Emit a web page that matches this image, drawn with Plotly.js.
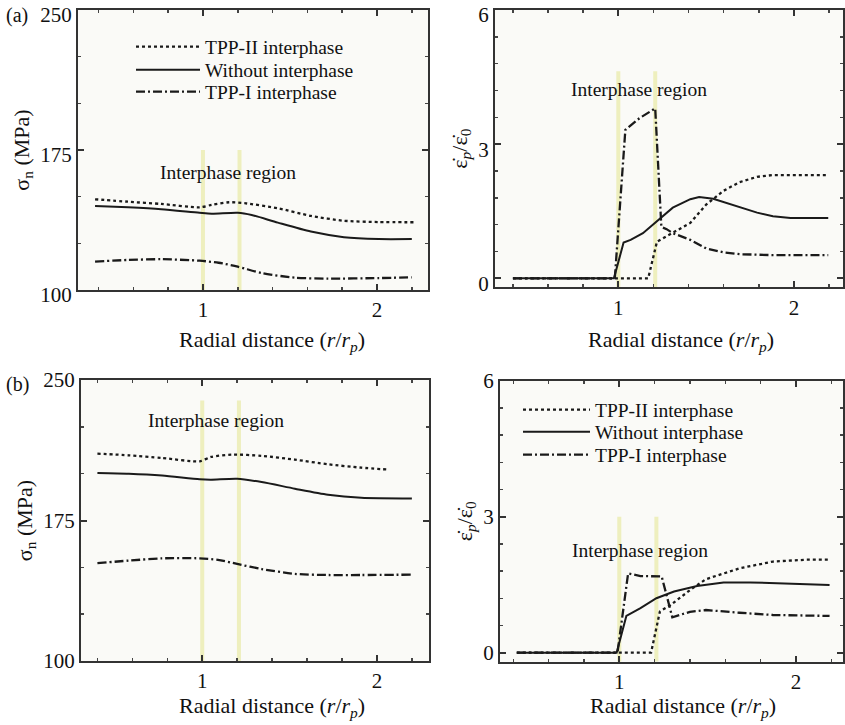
<!DOCTYPE html>
<html><head><meta charset="utf-8">
<script src="https://cdn.plot.ly/plotly-3.0.1.min.js"></script>
<style>html,body{margin:0;padding:0;background:#fff}#chart{width:845px;height:725px}</style>
</head><body><div id="chart"></div>
<script>
// ---------------- data ----------------
const seriesNames = ["TPP-II interphase", "Without interphase", "TPP-I interphase"];
const interphaseBounds = [1.0, 1.21];

// (a) left: normal stress sigma_n (MPa)
const aSigTpp2X = [0.38,0.57,0.76,0.98,1.05,1.15,1.24,1.43,1.62,1.81,2.01,2.22];
const aSigTpp2Y = [148.6,147.3,146.1,144.3,145.6,147.0,146.5,143.8,139.7,137.1,136.4,136.3];
const aSigNoneX = [0.38,0.57,0.76,0.98,1.05,1.20,1.28,1.43,1.62,1.81,2.01,2.20];
const aSigNoneY = [145.0,144.3,143.3,141.4,140.9,141.4,140.2,136.1,131.3,128.3,127.3,127.3];
const aSigTpp1X = [0.38,0.57,0.76,0.98,1.09,1.20,1.34,1.53,1.72,2.01,2.20];
const aSigTpp1Y = [115.2,116.1,116.5,115.7,114.6,112.5,109.0,106.6,106.1,106.4,106.8];

// (a) right: plastic strain rate ratio
const aEpsTpp2X = [0.40,1.17,1.22,1.31,1.41,1.50,1.60,1.69,1.79,1.88,2.00,2.195];
const aEpsTpp2Y = [0,0,0.82,1.01,1.24,1.65,1.96,2.15,2.27,2.31,2.31,2.31];
const aEpsNoneX = [0.40,0.975,1.03,1.07,1.14,1.22,1.31,1.41,1.46,1.54,1.69,1.79,1.88,1.98,2.195];
const aEpsNoneY = [0,0,0.80,0.86,1.01,1.28,1.58,1.77,1.82,1.78,1.60,1.47,1.39,1.35,1.35];
const aEpsTpp1X = [0.40,0.98,1.04,1.12,1.21,1.245,1.275,1.31,1.41,1.50,1.60,1.69,1.88,2.195];
const aEpsTpp1Y = [0,0,3.32,3.58,3.80,1.15,1.10,1.01,0.86,0.67,0.58,0.54,0.52,0.52];

// (b) left
const bSigTpp2X = [0.40,0.58,0.77,0.985,1.05,1.17,1.34,1.53,1.72,1.91,2.06];
const bSigTpp2Y = [210.7,209.8,208.4,206.6,208.9,210.2,209.5,207.5,205.0,203.2,202.2];
const bSigNoneX = [0.40,0.58,0.77,0.985,1.05,1.20,1.34,1.53,1.72,1.91,2.20];
const bSigNoneY = [200.4,200.0,199.0,197.0,196.8,197.3,195.5,192.0,188.8,187.2,186.8];
const bSigTpp1X = [0.40,0.58,0.77,0.985,1.09,1.20,1.34,1.53,1.72,1.91,2.20];
const bSigTpp1Y = [152.2,153.6,154.8,154.8,154.0,151.8,149.1,146.5,145.9,145.9,146.1];

// (b) right
const bEpsTpp2X = [0.42,1.18,1.23,1.29,1.40,1.49,1.68,1.87,2.06,2.19];
const bEpsTpp2Y = [0,0,0.91,1.05,1.38,1.62,1.86,2.01,2.05,2.05];
const bEpsNoneX = [0.42,0.985,1.04,1.12,1.21,1.31,1.44,1.59,1.74,1.97,2.19];
const bEpsNoneY = [0,0,0.81,0.98,1.20,1.35,1.47,1.55,1.55,1.52,1.49];
const bEpsTpp1X = [0.42,0.99,1.05,1.12,1.24,1.30,1.40,1.49,1.68,1.87,2.19];
const bEpsTpp1Y = [0,0,1.75,1.69,1.68,0.78,0.90,0.94,0.88,0.83,0.81];

// ---------------- styles ----------------
const FONT = "Liberation Serif, Times New Roman, serif";
const INK = "#1a1a1a";
const dashes = ["3px,3px", "solid", "9px,3px,2px,3px"];

function tr(x, y, idx, xa, ya, legendId, smooth) {
  return {
    type: "scatter", mode: "lines", x: x, y: y, name: seriesNames[idx],
    xaxis: xa, yaxis: ya,
    line: {color: INK, width: idx === 1 ? 2 : 2.3, dash: dashes[idx],
           shape: smooth ? "spline" : "linear", smoothing: 0.7},
    showlegend: !!legendId, legend: legendId || "legend", hoverinfo: "skip"
  };
}

const data = [
  tr(aSigTpp2X, aSigTpp2Y, 0, "x", "y", "legend", true),
  tr(aSigNoneX, aSigNoneY, 1, "x", "y", "legend2", true),
  tr(aSigTpp1X, aSigTpp1Y, 2, "x", "y", "legend3", true),
  tr(aEpsTpp2X, aEpsTpp2Y, 0, "x2", "y2", null, false),
  tr(aEpsNoneX, aEpsNoneY, 1, "x2", "y2", null, false),
  tr(aEpsTpp1X, aEpsTpp1Y, 2, "x2", "y2", null, false),
  tr(bSigTpp2X, bSigTpp2Y, 0, "x3", "y3", null, true),
  tr(bSigNoneX, bSigNoneY, 1, "x3", "y3", null, true),
  tr(bSigTpp1X, bSigTpp1Y, 2, "x3", "y3", null, true),
  tr(bEpsTpp2X, bEpsTpp2Y, 0, "x4", "y4", "legend4", false),
  tr(bEpsNoneX, bEpsNoneY, 1, "x4", "y4", "legend5", false),
  tr(bEpsTpp1X, bEpsTpp1Y, 2, "x4", "y4", "legend6", false)
];

const tickFont = {family: FONT, size: 21, color: "#111"};
const titleFont = {family: FONT, size: 22, color: "#111"};
const xTitle = "Radial distance (<i>r</i>/<i>r</i><sub><i>p</i></sub>)";

function xAx(domain, range, anchor) {
  return {domain: domain, range: range, anchor: anchor,
    tick0: 0, dtick: 1, ticks: "inside", ticklen: 6, tickwidth: 2, tickcolor: "#333",
    minor: {tick0: 0, dtick: 0.2, ticks: "inside", ticklen: 3, tickwidth: 1.5, tickcolor: "#444"},
    showline: true, linecolor: "#333", linewidth: 2, mirror: "allticks",
    showgrid: false, zeroline: false, tickfont: tickFont, ticklabeloverflow: "allow"};
}
function yAx(domain, range, anchor, tick0, dtick, minorD, title, standoff, shift) {
  return {domain: domain, range: range, anchor: anchor,
    tick0: tick0, dtick: dtick, ticks: "inside", ticklen: 6, tickwidth: 2, tickcolor: "#333",
    minor: {tick0: tick0, dtick: minorD, ticks: "inside", ticklen: 3, tickwidth: 1.5, tickcolor: "#444"},
    showline: true, linecolor: "#333", linewidth: 2, mirror: "allticks",
    showgrid: false, zeroline: false, tickfont: tickFont, ticklabelshift: shift,
    ticklabeloverflow: "allow",
    title: {text: title, font: titleFont, standoff: standoff}};
}

const sigTitle = "σ<sub>n</sub> (MPa)";
const epsTitle = "ε̇<sub><i>p</i></sub>/ε̇<sub>0</sub>";

// yellow interphase-region markers
const markerTops = {y: 175, y2: 4.63, y3: 239, y4: 3.0};
const markerBottoms = {y: 100, y2: -0.2, y3: 100, y4: -0.2};
const xOf = {y: "x", y2: "x2", y3: "x3", y4: "x4"};
const shapes = [];
Object.keys(markerTops).forEach(function (ya) {
  interphaseBounds.forEach(function (b) {
    shapes.push({type: "line", xref: xOf[ya], yref: ya, x0: b, x1: b,
      y0: markerBottoms[ya], y1: markerTops[ya], layer: "below",
      line: {color: "rgba(232,234,165,0.7)", width: 4}});
  });
});

const annFont = {family: FONT, size: 19.5, color: "#111"};
function xTitleAnn(xpx, ypx) {
  return {xref: "paper", yref: "paper", x: xpx/845, y: 1 - ypx/725, xanchor: "center", yanchor: "middle",
    text: xTitle, showarrow: false, font: titleFont};
}
const annotations = [
  {xref: "paper", yref: "paper", x: 4/845, y: 1 - 15/725, xanchor: "left", yanchor: "middle", text: "(a)", showarrow: false, font: {family: FONT, size: 20, color: "#111"}},
  {xref: "paper", yref: "paper", x: 4/845, y: 1 - 385/725, xanchor: "left", yanchor: "middle", text: "(b)", showarrow: false, font: {family: FONT, size: 20, color: "#111"}},
  {xref: "x", yref: "y", x: 1.144, y: 163.2, text: "Interphase region", showarrow: false, font: annFont},
  {xref: "x2", yref: "y2", x: 1.12, y: 4.23, text: "Interphase region", showarrow: false, font: annFont},
  {xref: "x3", yref: "y3", x: 1.08, y: 228.6, text: "Interphase region", showarrow: false, font: annFont},
  {xref: "x4", yref: "y4", x: 1.12, y: 2.25, text: "Interphase region", showarrow: false, font: annFont},
  xTitleAnn(272, 341), xTitleAnn(681, 341), xTitleAnn(272, 707), xTitleAnn(683, 707)
];

const legendFont = {family: FONT, size: 19.5, color: "#111"};
function leg(xpx, ypx, iw) {
  return {x: xpx/845, y: 1 - ypx/725, xanchor: "left", yanchor: "middle",
    bgcolor: "rgba(0,0,0,0)", font: legendFont, itemwidth: iw, tracegroupgap: 0};
}
const layout = {
  width: 845, height: 725,
  margin: {l: 0, r: 0, t: 0, b: 0},
  paper_bgcolor: "#ffffff", plot_bgcolor: "#fafaf7",
  font: {family: FONT, color: "#111"},
  xaxis:  xAx([78/845, 428/845], [0.282, 2.293], "y"),
  yaxis:  yAx([1 - 290/725, 1 - 10/725], [100, 250], "x", 100, 75, 25, sigTitle, 5, 5),
  xaxis2: xAx([495/845, 843/845], [0.298, 2.279], "y2"),
  yaxis2: yAx([1 - 287.3/725, 1 - 10/725], [-0.2, 6], "x2", 0, 3, 0.6, epsTitle, 5, 5),
  xaxis3: xAx([81/845, 429/845], [0.306, 2.298], "y3"),
  yaxis3: yAx([1 - 661/725, 1 - 380/725], [100, 250], "x3", 100, 75, 25, sigTitle, 5, 0),
  xaxis4: xAx([500/845, 843/845], [0.325, 2.266], "y4"),
  yaxis4: yAx([1 - 661.7/725, 1 - 380.7/725], [-0.2, 6], "x4", 0, 3, 0.6, epsTitle, 5, 0),
  legend:  leg(131, 47, 64),
  legend2: leg(131, 70, 64),
  legend3: leg(131, 92, 64),
  legend4: leg(518, 410, 67),
  legend5: leg(518, 432, 67),
  legend6: leg(518, 455, 67),
  shapes: shapes,
  annotations: annotations
};

Plotly.newPlot("chart", data, layout, {staticPlot: true, displayModeBar: false});
</script>
</body></html>
